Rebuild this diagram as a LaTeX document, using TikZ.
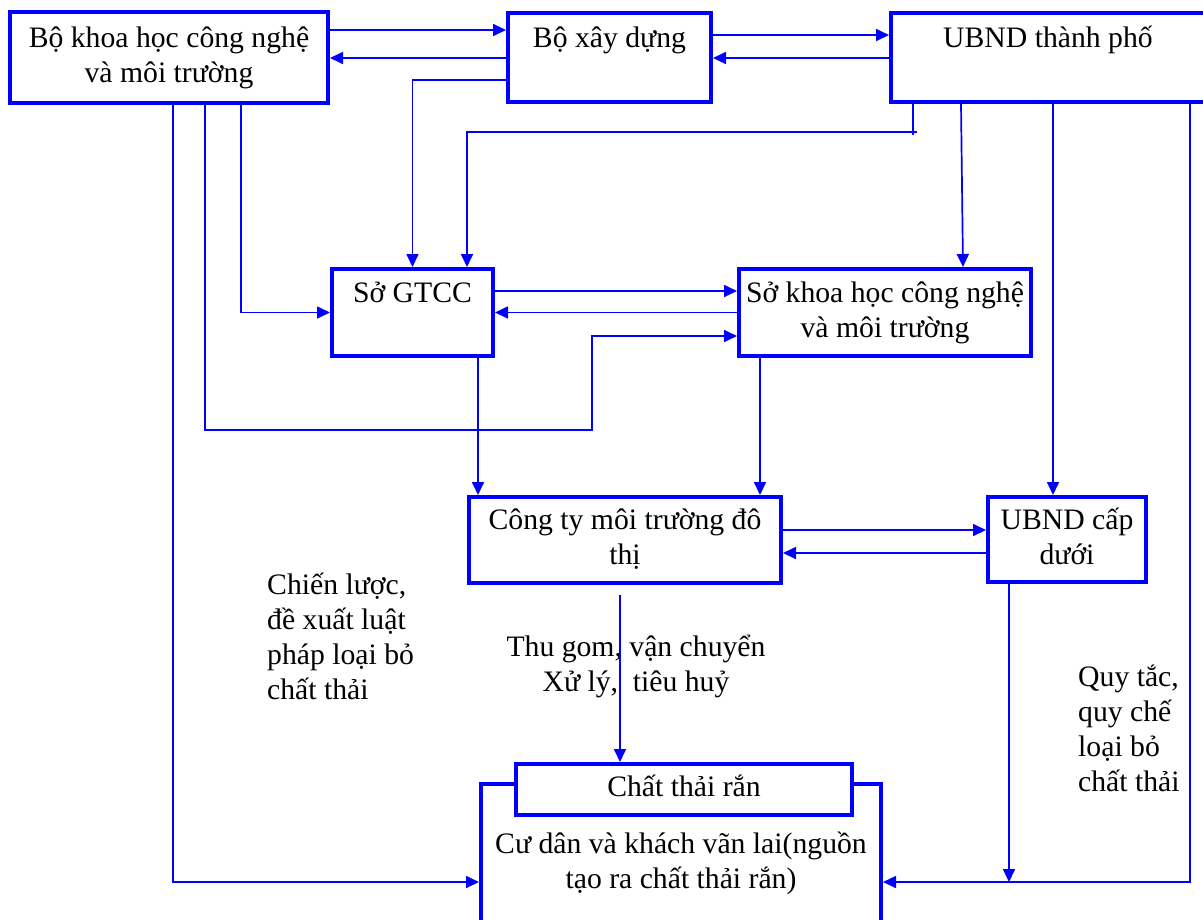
\documentclass[tikz,border=0pt]{standalone}
\usepackage{fontspec}
\setmainfont{Liberation Serif}
\usetikzlibrary{arrows.meta}
\newcommand{\topstrut}{\rule{0pt}{28pt}}
\newcommand{\botstrut}{\rule[-14pt]{0pt}{14pt}}

\begin{document}
\begin{tikzpicture}[x=1pt,y=-1pt,
  box/.style={draw=blue,line width=4pt,fill=white,inner sep=0pt,align=center,
    font=\fontsize{29.7pt}{35pt}\selectfont},
  note/.style={inner sep=0pt,font=\fontsize{29.7pt}{35pt}\selectfont},
  conn/.style={draw=blue,line width=1.7pt},
  arr/.style={conn,-{Triangle[length=13pt,width=12pt]}}]
  \useasboundingbox (0,0) rectangle (1203,919);

  % top row
  \node[box,minimum width=318pt,minimum height=91pt] (bkhcn) at (169,57.5) {\topstrut Bộ khoa học công nghệ\\và môi trường\botstrut};
  \node[box,minimum width=203pt,minimum height=89pt] (bxd) at (609.5,57.5) {\topstrut Bộ xây dựng\\\botstrut};
  \node[box,minimum width=314pt,minimum height=89pt] (ubndtp) at (1048,57.5) {\topstrut UBND thành phố\\\botstrut};

  % middle
  \node[box,minimum width=161pt,minimum height=87pt] (sogtcc) at (412.5,312.5) {\topstrut Sở GTCC\\\botstrut};
  \node[box,minimum width=292pt,minimum height=87pt] (sokhcn) at (885,312.5) {\topstrut Sở khoa học công nghệ\\và môi trường\botstrut};
  \node[box,minimum width=312pt,minimum height=86pt] (congty) at (625,540) {\topstrut Công ty môi trường đô\\thị\botstrut};
  \node[box,minimum width=158pt,minimum height=85pt] (ubndcd) at (1067,539.5) {\topstrut UBND cấp\\dưới\botstrut};

  % bottom
  \node[box,minimum width=400pt,minimum height=159pt] (cudan) at (681,863.5) {\topstrut Cư dân và khách vãn lai(nguồn\\tạo ra chất thải rắn)\botstrut};
  \node[box,minimum width=336pt,minimum height=51pt] (ctr) at (684,789.5) {\topstrut Chất thải rắn\botstrut};

  % notes
  \node[note,align=left,anchor=north west] (chienluoc) at (267,566) {\topstrut Chiến lược,\\đề xuất luật\\pháp loại bỏ\\chất thải};
  \node[note,align=center,anchor=north] (thugom) at (636,628) {\topstrut Thu gom, vận chuyển\\Xử lý,\ \ tiêu huỷ};
  \node[note,align=left,anchor=north west] (quytac) at (1078,658) {\topstrut Quy tắc,\\quy chế\\loại bỏ\\chất thải};

  \coordinate (tick) at (913,132);
  \coordinate (rc) at (1190,882);

  % Bo KHCN <-> Bo XD <-> UBND tp
  \draw[arr] (bkhcn.east |- 0,30) -- (bxd.west |- 0,30);
  \draw[arr] (bxd.west |- 0,58) -- (bkhcn.east |- 0,58);
  \draw[arr] (bxd.east |- 0,35) -- (ubndtp.west |- 0,35);
  \draw[arr] (ubndtp.west |- 0,58) -- (bxd.east |- 0,58);
  \draw[arr] (bxd.west |- 0,80) -| (sogtcc.north);

  % from UBND tp
  \draw[conn] (ubndtp.south -| tick) -- ([yshift=-3pt]tick);
  \draw[arr] ([xshift=4pt]tick) -| ([xshift=54.5pt]sogtcc.north);
  \draw[arr] (ubndtp.south -| 961,0) -- ([xshift=78pt]sokhcn.north);
  \draw[arr] (ubndtp.south -| 1053,0) -- ([xshift=-14pt]ubndcd.north);
  \draw[arr] (ubndtp.south -| rc) |- (cudan.east |- rc);

  % from Bo KHCN
  \draw[arr] (bkhcn.south -| 241,0) |- (sogtcc.west);
  \draw[arr] (bkhcn.south -| 205,0) |- (592,430) |- (sokhcn.west |- 0,336);
  \draw[arr] (bkhcn.south -| 173,0) |- (cudan.west |- rc);

  % So GTCC <-> So KHCN
  \draw[arr] (sogtcc.east |- 0,291) -- (sokhcn.west |- 0,291);
  \draw[arr] (sokhcn.west) -- (sogtcc.east);
  \draw[arr] (sogtcc.south -| 478,0) -- (congty.north -| 478,0);
  \draw[arr] (sokhcn.south -| 760,0) -- (congty.north -| 760,0);

  % Cong ty <-> UBND cap duoi
  \draw[arr] (congty.east |- 0,530) -- (ubndcd.west |- 0,530);
  \draw[arr] (ubndcd.west |- 0,553) -- (congty.east |- 0,553);
  \draw[arr,shorten <=10pt] (congty.south -| 620,0) -- (ctr.north -| 620,0);
  \draw[arr] (ubndcd.south -| 1009,0) -- (rc -| 1009,0);
\end{tikzpicture}
\end{document}
